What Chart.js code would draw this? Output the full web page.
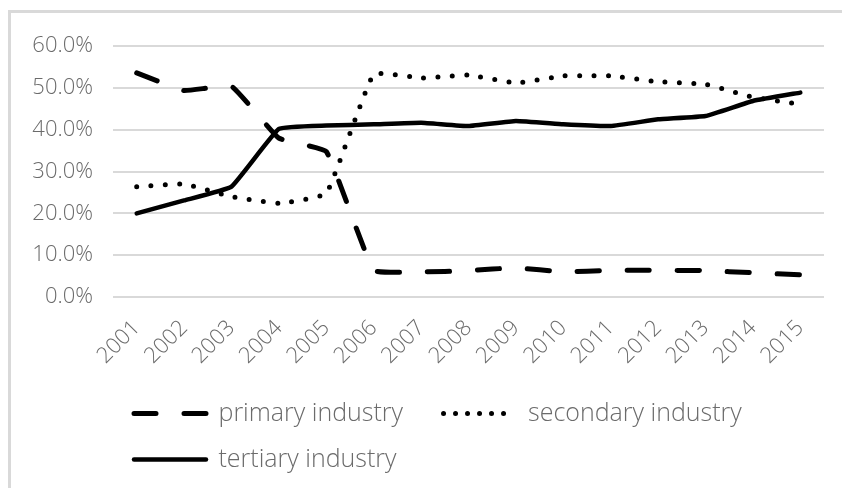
<!DOCTYPE html>
<html>
<head>
<meta charset="utf-8">
<script src="https://cdn.jsdelivr.net/npm/chart.js@4/dist/chart.umd.min.js"></script>
<style>
  html, body { margin: 0; padding: 0; background: #fff; overflow: hidden; }
  /* light grey frame, cut off at the right and bottom like the original */
  .frame {
    position: absolute;
    left: 8px;
    top: 10px;
    width: 900px;
    height: 560px;
    border-left: 3px solid #d9d9d9;
    border-top: 3px solid #d9d9d9;
  }
  .chart-box { position: relative; width: 831px; height: 475px; }
</style>
</head>
<body>
<div class="frame">
  <div class="chart-box"><canvas id="industry-chart"></canvas></div>
</div>
<script>
// Years on the x axis
const years = ['2001', '2002', '2003', '2004', '2005', '2006', '2007', '2008',
               '2009', '2010', '2011', '2012', '2013', '2014', '2015'];

// Share of each industry, in percent
const primaryIndustry = [53.6, 49.4, 50.4, 38.0, 34.8, 6.4, 6.0, 6.3, 7.0, 6.0, 6.4, 6.4, 6.3, 5.8, 5.3];
const secondaryIndustry = [26.4, 27.0, 24.0, 22.4, 24.8, 53.3, 52.4, 53.1, 51.2, 52.9, 52.9, 51.5, 50.9, 47.8, 46.1];
const tertiaryIndustry = [20.0, 23.1, 26.4, 40.2, 41.0, 41.3, 41.7, 40.9, 42.1, 41.3, 40.9, 42.5, 43.3, 46.9, 48.9];

// y axis ticks
const yTicks = [0, 10, 20, 30, 40, 50, 60];

const textColor = '#6b6b6b';
const fontFamily = "'Open Sans', 'Liberation Sans', sans-serif";

// dash used for each series in the legend sample (the dotted one is a bit tighter there)
const legendDash = [[22, 28], [0, 12], []];

const ctx = document.getElementById('industry-chart').getContext('2d');
new Chart(ctx, {
    type: 'line',
    data: {
        labels: years,
        datasets: [{
            label: 'primary industry',
            data: primaryIndustry,
            borderColor: '#000',
            borderWidth: 5,
            borderDash: [22, 28],
            borderCapStyle: 'round',
            tension: 0.1,
            pointRadius: 0,
            fill: false
        }, {
            label: 'secondary industry',
            data: secondaryIndustry,
            borderColor: '#000',
            borderWidth: 5,
            borderDash: [0, 14.3],
            borderCapStyle: 'round',
            tension: 0.1,
            pointRadius: 0,
            fill: false
        }, {
            label: 'tertiary industry',
            data: tertiaryIndustry,
            borderColor: '#000',
            borderWidth: 4.5,
            borderCapStyle: 'round',
            tension: 0.1,
            pointRadius: 0,
            fill: false
        }]
    },
    options: {
        responsive: true,
        maintainAspectRatio: false,
        animation: false,
        layout: {
            padding: { top: 32, right: 18, bottom: 6, left: 0 }
        },
        scales: {
            x: {
                offset: true,
                grid: { display: false },
                border: { display: false },
                ticks: {
                    autoSkip: false,
                    minRotation: 45,
                    maxRotation: 45,
                    padding: 10,
                    color: textColor,
                    font: { family: fontFamily, size: 22, weight: 300 }
                },
                afterFit: scale => { scale.height = 83; }
            },
            y: {
                min: 0,
                max: 60,
                afterBuildTicks: scale => {
                    scale.ticks = yTicks.map(v => ({ value: v }));
                },
                grid: { color: '#d9d9d9', lineWidth: 2, drawTicks: false },
                border: { display: false },
                ticks: {
                    padding: 20,
                    color: textColor,
                    font: { family: fontFamily, size: 22, weight: 300 },
                    callback: value => value.toFixed(1) + '%'
                },
                afterFit: scale => { scale.width = 102; }
            }
        },
        plugins: {
            legend: {
                position: 'bottom',
                align: 'start',
                fullSize: false,
                labels: {
                    usePointStyle: true,
                    pointStyle: 'line',
                    pointStyleWidth: 72,
                    padding: 21,
                    color: textColor,
                    font: { family: fontFamily, size: 25, weight: 300 },
                    generateLabels: chart => {
                        const items = Chart.defaults.plugins.legend.labels.generateLabels(chart);
                        items.forEach((item, i) => {
                            const ds = chart.data.datasets[i];
                            item.lineDash = legendDash[i];
                            item.lineCap = 'round';
                            item.lineWidth = ds.borderWidth;
                            item.strokeStyle = ds.borderColor;
                        });
                        // a little extra room before the second entry
                        items[0].text += '   ';
                        return items;
                    }
                }
            },
            tooltip: { enabled: false }
        }
    }
});
</script>
</body>
</html>
